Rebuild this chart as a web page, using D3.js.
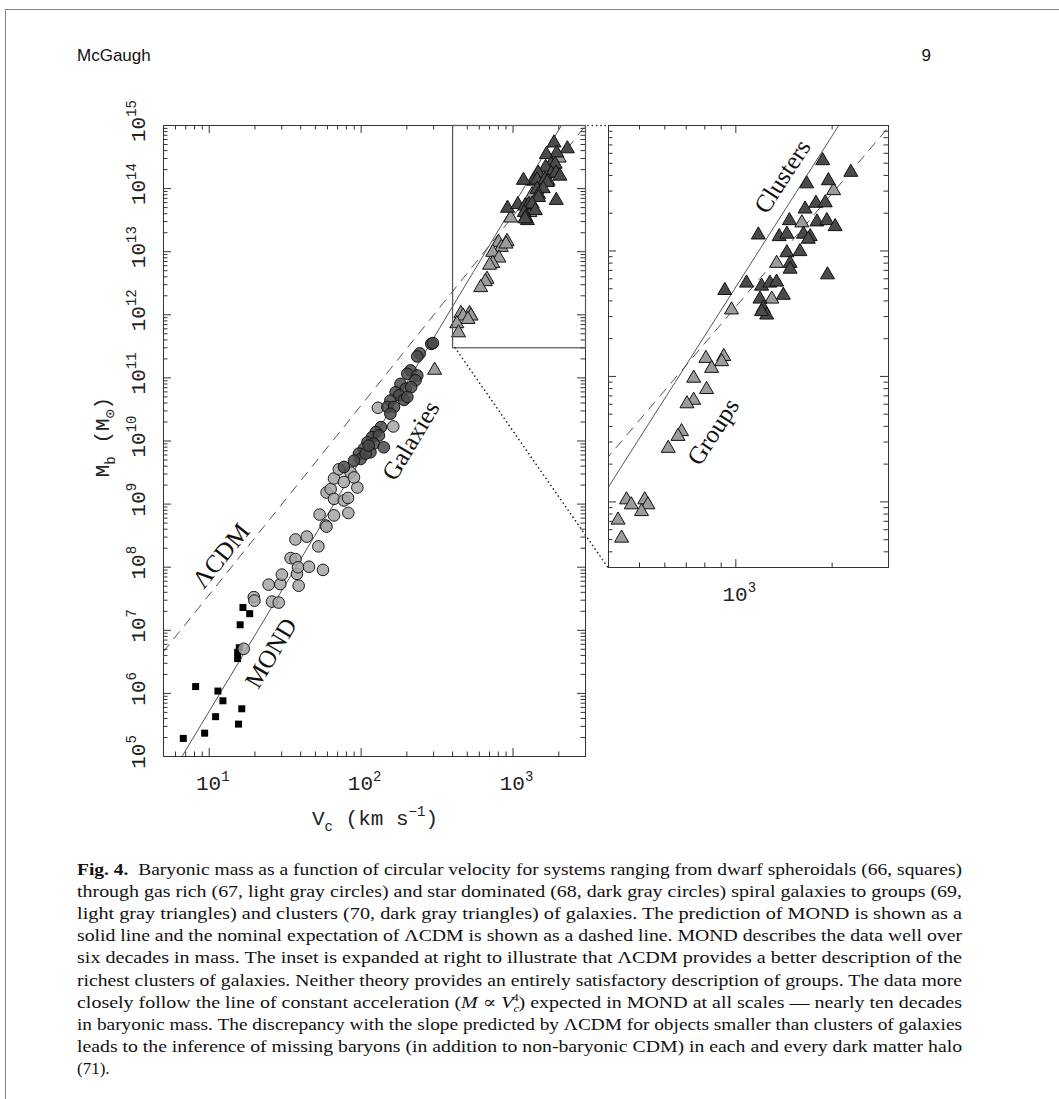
<!DOCTYPE html>
<html>
<head>
<meta charset="utf-8">
<script src="https://cdn.jsdelivr.net/npm/d3@7"></script>
<style>
body { margin: 0; background: #fff; }
</style>
</head>
<body>
<div id="fig"></div>
<script>
// [V_c km/s, M_b solar masses]
var dwarfSph = [
    [6.8, 1.9e5], [9.4, 2.3e5], [8.2, 1.26e6], [11.5, 1.07e6], [12.4, 7.5e5],
    [11.1, 4.2e5], [15.7, 3.2e5], [16.5, 5.6e5], [16.1, 1.2e7], [16.8, 2.26e7],
    [18.6, 1.8e7], [15.5, 3.5e6], [15.5, 4.4e6], [15.9, 5.2e6]
];
var gasRich = [
    [17.0, 5.0e6], [19.8, 3.3e7], [20.0, 2.9e7], [24.8, 5.2e7], [29.6, 5.3e7],
    [30.3, 7.5e7], [26.1, 2.8e7], [28.9, 2.7e7], [39.1, 5.0e7], [38.1, 7.7e7],
    [37.2, 2.7e8], [44.2, 3.0e8], [52.7, 2.1e8], [34.6, 1.37e8], [37.3, 1.32e8],
    [38.7, 9.8e7], [45.7, 1.0e8], [56.5, 8.9e7], [53.7, 6.7e8], [58.9, 4.5e8],
    [59.6, 4.3e8], [66.8, 6.5e8], [83.0, 7.1e8], [59.7, 1.5e9], [63.5, 1.7e9],
    [66.8, 1.19e9], [77.6, 1.12e9], [82.6, 1.23e9], [95.1, 1.8e9], [66.8, 2.5e9],
    [71.9, 3.5e9], [77.6, 2.2e9], [85.9, 3.1e9], [90.4, 2.6e9], [164, 1.67e10],
    [130, 3.3e10]
];
var starDom = [
    [292, 3.4e11], [299, 3.5e11], [245, 2.4e11], [236, 2.15e11], [213, 1.29e11],
    [203, 1.14e11], [236, 1.07e11], [230, 9.0e10], [183, 7.9e10], [198, 6.6e10],
    [215, 7.0e10], [170, 5.8e10], [179, 5.2e10], [193, 4.4e10], [203, 4.9e10],
    [157, 4.3e10], [150, 3.4e10], [166, 3.4e10], [157, 2.65e10], [136, 1.63e10],
    [126, 1.36e10], [119, 1.13e10], [132, 1.2e10], [111, 9.4e9], [122, 8.9e9],
    [105, 7.4e9], [116, 6.5e9], [97.5, 6.2e9], [100, 5.1e9], [90.4, 4.8e9],
    [77.6, 3.8e9], [142, 7.8e9], [108, 6.2e9], [113, 8.3e9]
];
var groups = [
    [307, 1.3e11], [809, 1.38e13], [920, 1.43e13], [843, 1.15e13], [906, 1.3e13],
    [741, 9.6e12], [813, 7.8e12], [741, 6.4e12], [706, 6.0e12], [679, 3.6e12],
    [662, 3.3e12], [617, 2.65e12], [457, 1.03e12], [521, 1.03e12], [473, 9.4e11],
    [533, 9.4e11], [509, 8.3e11], [430, 7.1e11], [441, 5.1e11], [2028, 3.0e14],
    [1614, 1.66e14], [1346, 7.9e13], [1300, 4.1e13], [973, 3.36e13]
];
var clusters = [
    [1875, 5.2e14], [2296, 4.2e14], [1954, 3.6e14], [1671, 3.4e14], [1786, 2.38e14],
    [1910, 2.4e14], [1652, 2.14e14], [1476, 1.73e14], [1799, 1.69e14], [1932, 1.73e14],
    [2051, 1.55e14], [1371, 1.29e14], [1449, 1.35e14], [1633, 1.35e14], [1714, 1.29e14],
    [1690, 1.23e14], [1180, 1.33e14], [1449, 9.6e13], [1592, 9.8e13], [1483, 7.9e13],
    [1483, 7.1e13], [1941, 6.4e13], [927, 4.8e13], [1084, 5.5e13], [1208, 5.2e13],
    [1282, 5.5e13], [1346, 5.6e13], [1413, 4.4e13], [1194, 4.1e13], [1222, 3.46e13],
    [1253, 3.06e13], [1208, 3.26e13]
];
// model lines, end points
var mondLine = [[5, 3.1e4], [3000, 4.1e15]];
var lcdmLine = [[5, 4.4e6], [3000, 9.5e14]];

var mainXTicks = [10, 100, 1000];
var mainYTicks = [1e5, 1e6, 1e7, 1e8, 1e9, 1e10, 1e11, 1e12, 1e13, 1e14, 1e15];
var insetXTicks = [1000];

var mainLabels = [
    {text: "\u039BCDM", v: 12, m: 1.5e8, angle: -51},
    {text: "MOND", v: 25.6, m: 4.3e6, angle: -59},
    {text: "Galaxies", v: 213, m: 1.0e10, angle: -59}
];
var insetLabels = [
    {text: "Clusters", v: 1400, m: 3.9e14, angle: -57},
    {text: "Groups", v: 851, m: 3.6e12, angle: -57}
];

var captionLines = [
    [{t: "Fig. 4.", b: 1}, {t: "  Baryonic mass as a function of circular velocity for systems ranging from dwarf spheroidals (66, squares)"}],
    "through gas rich (67, light gray circles) and star dominated (68, dark gray circles) spiral galaxies to groups (69,",
    "light gray triangles) and clusters (70, dark gray triangles) of galaxies. The prediction of MOND is shown as a",
    "solid line and the nominal expectation of \u039BCDM is shown as a dashed line. MOND describes the data well over",
    "six decades in mass. The inset is expanded at right to illustrate that \u039BCDM provides a better description of the",
    "richest clusters of galaxies. Neither theory provides an entirely satisfactory description of groups. The data more",
    [{t: "closely follow the line of constant acceleration ("}, {t: "M", i: 1}, {t: " \u221D "}, {t: "V", i: 1},
     {t: "c", i: 1, sub: 1}, {t: "4", sup: 1}, {t: ") expected in MOND at all scales \u2014 nearly ten decades"}],
    "in baryonic mass. The discrepancy with the slope predicted by \u039BCDM for objects smaller than clusters of galaxies",
    "leads to the inference of missing baryons (in addition to non-baryonic CDM) in each and every dark matter halo",
    "(71)."
];

var W = 1059, H = 1099;
var MONO = "'Liberation Mono', 'DejaVu Sans Mono', monospace";
var SERIF = "'Liberation Serif', 'DejaVu Serif', serif";

function minorTicks(domain) {
    var out = [];
    var lo = Math.floor(Math.log10(domain[0])), hi = Math.ceil(Math.log10(domain[1]));
    for (var e = lo; e <= hi; e++) {
        for (var k = 2; k < 10; k++) {
            var v = k * Math.pow(10, e);
            if (v > domain[0] && v < domain[1]) out.push(v);
        }
    }
    return out;
}
function majorTicks(domain) {
    var out = [];
    var lo = Math.ceil(Math.log10(domain[0]) - 1e-9), hi = Math.floor(Math.log10(domain[1]) + 1e-9);
    for (var e = lo; e <= hi; e++) out.push(Math.pow(10, e));
    return out;
}

function drawTicks(g, x, y) {
    var x0 = x.range()[0], x1 = x.range()[1], y0 = y.range()[0], y1 = y.range()[1];
    var sides = [
        [d3.axisBottom, x, "translate(0," + y0 + ")"],
        [d3.axisTop, x, "translate(0," + y1 + ")"],
        [d3.axisLeft, y, "translate(" + x0 + ",0)"],
        [d3.axisRight, y, "translate(" + x1 + ",0)"]
    ];
    sides.forEach(function (s) {
        [[majorTicks(s[1].domain()), 8], [minorTicks(s[1].domain()), 4.5]].forEach(function (t) {
            var a = s[0](s[1]).tickValues(t[0]).tickSize(-t[1]).tickSizeOuter(0).tickFormat("");
            var ax = g.append("g").attr("transform", s[2]).call(a);
            ax.select(".domain").remove();
            ax.selectAll("line").attr("stroke", "#333").attr("stroke-width", 1);
        });
    });
    g.append("rect")
        .attr("x", x0 + 0.5).attr("y", y1 + 0.5)
        .attr("width", x1 - x0).attr("height", y0 - y1)
        .attr("fill", "none").attr("stroke", "#333").attr("stroke-width", 1);
}

function drawData(g, x, y, id) {
    var x0 = x.range()[0], x1 = x.range()[1], y0 = y.range()[0], y1 = y.range()[1];
    g.append("clipPath").attr("id", id)
        .append("rect").attr("x", x0).attr("y", y1).attr("width", x1 - x0).attr("height", y0 - y1);
    var c = g.append("g").attr("clip-path", "url(#" + id + ")");

    var line = d3.line().x(function (d) { return x(d[0]); }).y(function (d) { return y(d[1]); });
    c.append("path").attr("d", line(lcdmLine))
        .attr("fill", "none").attr("stroke", "#555").attr("stroke-width", 1)
        .attr("stroke-dasharray", "10,7");
    c.append("path").attr("d", line(mondLine))
        .attr("fill", "none").attr("stroke", "#555").attr("stroke-width", 1);

    function tr(d) { return "translate(" + x(d[0]) + "," + y(d[1]) + ")"; }

    c.selectAll(".sq").data(dwarfSph).enter().append("path")
        .attr("transform", tr)
        .attr("d", d3.symbol(d3.symbolSquare, 49))
        .attr("fill", "#000");

    c.selectAll(".gr").data(gasRich).enter().append("circle")
        .attr("cx", function (d) { return x(d[0]); })
        .attr("cy", function (d) { return y(d[1]); })
        .attr("r", 5.8)
        .attr("fill", "#a6a6a6").attr("fill-opacity", 0.85)
        .attr("stroke", "#1a1a1a").attr("stroke-width", 1);

    c.selectAll(".sd").data(starDom).enter().append("circle")
        .attr("cx", function (d) { return x(d[0]); })
        .attr("cy", function (d) { return y(d[1]); })
        .attr("r", 5.8)
        .attr("fill", "#4a4a4a").attr("fill-opacity", 0.85)
        .attr("stroke", "#111").attr("stroke-width", 1);

    c.selectAll(".grp").data(groups).enter().append("path")
        .attr("transform", tr)
        .attr("d", d3.symbol(d3.symbolTriangle, 85))
        .attr("fill", "#9c9c9c")
        .attr("stroke", "#111").attr("stroke-width", 1);

    c.selectAll(".cl").data(clusters).enter().append("path")
        .attr("transform", tr)
        .attr("d", d3.symbol(d3.symbolTriangle, 85))
        .attr("fill", "#4a4a4a")
        .attr("stroke", "#111").attr("stroke-width", 1);
}

function drawLabels(g, x, y, labels) {
    labels.forEach(function (l) {
        var px = x(l.v), py = y(l.m);
        g.append("text")
            .attr("x", px).attr("y", py)
            .attr("transform", "rotate(" + l.angle + "," + px + "," + py + ")")
            .attr("text-anchor", "middle")
            .attr("dominant-baseline", "central")
            .style("font-family", SERIF).style("font-size", "25px").attr("fill", "#111")
            .text(l.text);
    });
}

function powLabel(t, v) {
    t.append("tspan").text("10");
    t.append("tspan").attr("dy", -9).style("font-size", "14px")
        .text(Math.round(Math.log10(v)));
}

function go() {
    var svg = d3.select("#fig").append("svg")
        .attr("width", W).attr("height", H)
        .style("background", "#fff");

    // page frame
    svg.append("line").attr("x1", 5).attr("y1", 9.5).attr("x2", W).attr("y2", 9.5)
        .attr("stroke", "#888").attr("stroke-width", 1);
    svg.append("line").attr("x1", 5.5).attr("y1", 9).attr("x2", 5.5).attr("y2", H)
        .attr("stroke", "#888").attr("stroke-width", 1);

    svg.append("text").attr("x", 77).attr("y", 61)
        .style("font-family", "'Liberation Sans', Arial, sans-serif").style("font-size", "17px")
        .attr("fill", "#111").text("McGaugh");
    svg.append("text").attr("x", 931).attr("y", 61).attr("text-anchor", "end")
        .style("font-family", "'Liberation Sans', Arial, sans-serif").style("font-size", "17px")
        .attr("fill", "#111").text("9");

    var x = d3.scaleLog().domain([5, 3000]).range([163, 585]);
    var y = d3.scaleLog().domain([1e5, 1e15]).range([756, 125]);
    var xi = d3.scaleLog().domain([400, 3000]).range([608, 888]);
    var yi = d3.scaleLog().domain([3e11, 1e15]).range([567, 125]);

    var main = svg.append("g");
    drawData(main, x, y, "clipMain");
    drawTicks(main, x, y);
    drawLabels(main, x, y, mainLabels);

    // inset box in the main panel
    main.append("rect")
        .attr("x", x(400) + 0.5).attr("y", y(1e15) + 0.5)
        .attr("width", x(3000) - x(400)).attr("height", y(3e11) - y(1e15))
        .attr("fill", "none").attr("stroke", "#555").attr("stroke-width", 1.2);

    var inset = svg.append("g");
    drawData(inset, xi, yi, "clipInset");
    drawTicks(inset, xi, yi);
    drawLabels(inset, xi, yi, insetLabels);

    // dotted connectors
    var dots = [
        [[x(3000), y(1e15)], [xi(400), yi(1e15)]],
        [[x(400), y(3e11)], [xi(400), yi(3e11)]]
    ];
    dots.forEach(function (d) {
        svg.append("line")
            .attr("x1", d[0][0] + 3).attr("y1", d[0][1] + 0.5)
            .attr("x2", d[1][0]).attr("y2", d[1][1] + 0.5)
            .attr("stroke", "#222").attr("stroke-width", 1.6)
            .attr("stroke-linecap", "round")
            .attr("stroke-dasharray", "0.1,4.2");
    });

    // tick labels
    mainXTicks.forEach(function (v) {
        var t = svg.append("text").attr("x", x(v) + 4).attr("y", 790)
            .attr("text-anchor", "middle")
            .style("font-family", MONO).style("font-size", "21px").attr("fill", "#222");
        powLabel(t, v);
    });
    insetXTicks.forEach(function (v) {
        var t = svg.append("text").attr("x", xi(v) + 4).attr("y", 601)
            .attr("text-anchor", "middle")
            .style("font-family", MONO).style("font-size", "21px").attr("fill", "#222");
        powLabel(t, v);
    });
    mainYTicks.forEach(function (v) {
        var py = y(v) - 4;
        var t = svg.append("text").attr("x", 145).attr("y", py)
            .attr("transform", "rotate(-90,145," + py + ")")
            .attr("text-anchor", "middle")
            .style("font-family", MONO).style("font-size", "21px").attr("fill", "#222");
        powLabel(t, v);
    });

    // axis titles
    var xt = svg.append("text").attr("x", 375).attr("y", 825).attr("text-anchor", "middle")
        .style("font-family", MONO).style("font-size", "21px").attr("fill", "#222");
    xt.append("tspan").text("V");
    xt.append("tspan").attr("dy", 6).style("font-size", "14px").text("c");
    xt.append("tspan").attr("dy", -6).text(" (km s");
    xt.append("tspan").attr("dy", -9).style("font-size", "14px").text("\u22121");
    xt.append("tspan").attr("dy", 9).text(")");

    var yt = svg.append("text").attr("x", 109).attr("y", 437).attr("text-anchor", "middle")
        .attr("transform", "rotate(-90,109,437)")
        .style("font-family", MONO).style("font-size", "21px").attr("fill", "#222");
    yt.append("tspan").text("M");
    yt.append("tspan").attr("dy", 6).style("font-size", "14px").text("b");
    yt.append("tspan").attr("dy", -6).text(" (M");
    yt.append("tspan").attr("dy", 6).style("font-size", "15px").text("\u2299");
    yt.append("tspan").attr("dy", -6).text(")");

    // caption
    captionLines.forEach(function (line, i) {
        var t = svg.append("text").attr("x", 77).attr("y", 875 + 22.1 * i)
            .style("font-family", SERIF).style("font-size", "17px").attr("fill", "#111")
            .attr("xml:space", "preserve");
        if (typeof line === "string") {
            t.text(line);
        } else {
            var cur = 0;
            line.forEach(function (s) {
                var target = s.sub ? 4 : (s.sup ? -7 : 0);
                var sp = t.append("tspan").text(s.t).attr("dy", target - cur);
                cur = target;
                if (s.b) sp.style("font-weight", "bold");
                if (s.i) sp.style("font-style", "italic");
                if (s.sub || s.sup) sp.style("font-size", "11px");
                if (s.sup) sp.attr("dx", -6);
            });
        }
        if (i < captionLines.length - 1) {
            t.attr("textLength", 885).attr("lengthAdjust", "spacingAndGlyphs");
        }
    });
}

document.addEventListener("DOMContentLoaded", function () {
    go();
});
</script>
</body>
</html>
